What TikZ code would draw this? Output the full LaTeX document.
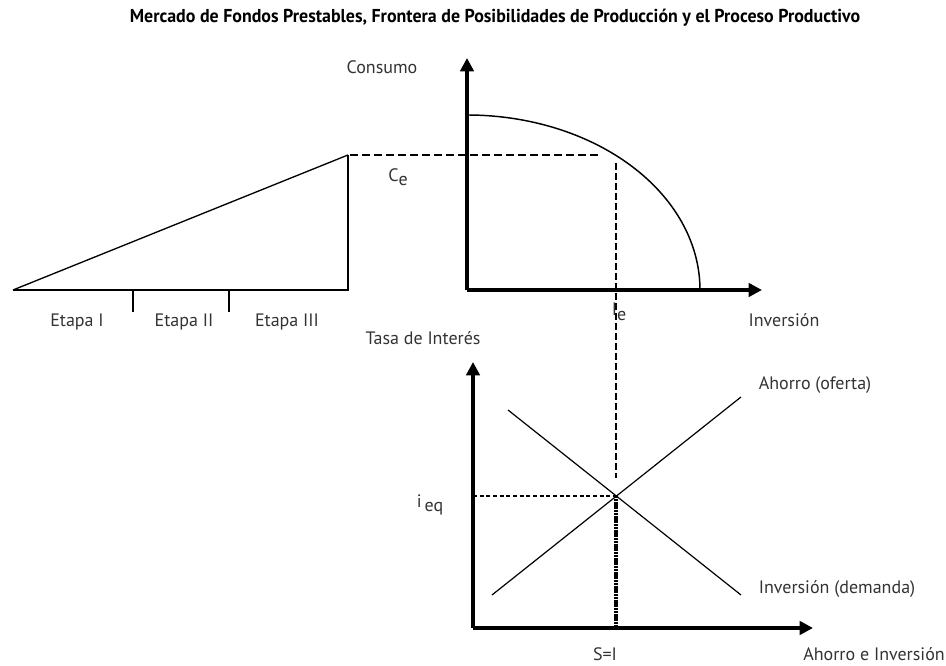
\documentclass[tikz,border=0pt]{standalone}
\usepackage{fontspec}
\setmainfont{PT Sans}
\usepackage{xcolor}
\usepackage{tikz}
\usetikzlibrary{arrows.meta,calc,positioning}
\definecolor{inkblack}{HTML}{000000}
\definecolor{textgray}{HTML}{333333}

\begin{document}
\begin{tikzpicture}[x=0.75pt,y=0.75pt,
    axisline/.style={inkblack, line width=2.6pt, -{Triangle[length=10pt,width=10pt]}},
    stageline/.style={inkblack, line width=1.8pt},
    curveline/.style={inkblack, line width=1.1pt},
    marketline/.style={inkblack, line width=0.9pt},
    lbl/.style={inner sep=0pt, text=textgray, font=\fontsize{13.5}{15}\selectfont}]
    \useasboundingbox (0,0) rectangle (946,666);

    \node[inner sep=0pt] (title) at (495,648)
        {\scalebox{0.96}[1]{\bfseries\fontsize{14}{16}\selectfont Mercado de Fondos Prestables, Frontera de Posibilidades de Producción y el Proceso Productivo}};

    \draw[stageline] (13,376) -- (348,376) -- (348,511);
    \draw[inkblack, line width=1pt] (13,376) -- (348,511);
    \draw[stageline] (133,376) -- (133,354);
    \draw[stageline] (229,376) -- (229,354);
    \node[lbl] (etapa1) at (77,344) {Etapa I};
    \node[lbl] (etapa2) at (184,344) {Etapa II};
    \node[lbl] (etapa3) at (287,344) {Etapa III};

    \coordinate (ppfO) at (467,376);
    \draw[axisline] (ppfO) -- (467,608);
    \draw[axisline] (ppfO) -- (762,376);
    \draw[curveline] plot[domain=0:90, samples=60, smooth] ({467+233*sin(\x)}, {376+175*cos(\x)});
    \draw[inkblack, line width=1.3pt, dash pattern=on 6pt off 3pt] (350,511) -- (600,511);
    \draw[inkblack, line width=2.2pt, dash pattern=on 5pt off 2.5pt] (616,503) -- (616,188);
    \node[lbl] (consumo) at (382,599) {Consumo};
    \node[lbl] (ce) at (398,489) {C\raisebox{-0.5ex}{e}};
    \node[lbl] (ie) at (619,354) {I\raisebox{-0.5ex}{e}};
    \node[lbl] (inversion) at (784,346) {Inversión};

    \coordinate (mktO) at (473,38);
    \draw[axisline] (mktO) -- (473,304);
    \draw[axisline] (mktO) -- (813,38);
    \coordinate (d1) at (508,256);
    \coordinate (d2) at (741,71);
    \coordinate (s1) at (492,71);
    \coordinate (s2) at (741,269);
    \draw[marketline] (d1) -- (d2);
    \draw[marketline] (s1) -- (s2);
    \coordinate (eq) at (616,170);
    \draw[inkblack, line width=0.8pt, dash pattern=on 3pt off 2pt] (473,170) -- (eq);
    \draw[inkblack, line width=2.4pt, dash pattern=on 1.6pt off 0.5pt] (eq) -- (616,38);
    \node[lbl] (tasa) at (423,328) {Tasa de Interés};
    \node[lbl] (ieq) at (430,161) {i\,\raisebox{-0.5ex}{eq}};
    \node[lbl] (oferta) at (815,281) {Ahorro (oferta)};
    \node[lbl] (demanda) at (837,77) {Inversión (demanda)};
    \node[lbl] (si) at (605,12) {S=I};
    \node[lbl, anchor=east] (ahorroinv) at (945,12) {Ahorro e Inversión};
\end{tikzpicture}
\end{document}
